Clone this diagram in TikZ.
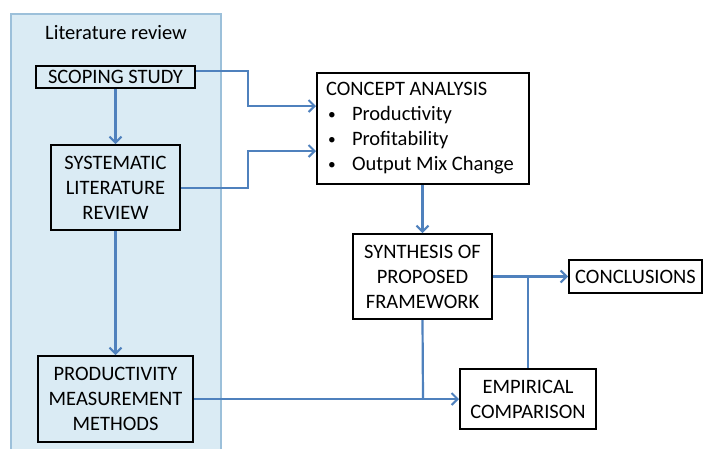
\documentclass[tikz,border=0pt]{standalone}
\usepackage{fontspec}
\setmainfont{Carlito}
\usetikzlibrary{arrows.meta}
\definecolor{panelfill}{HTML}{DAEBF4}
\definecolor{paneledge}{HTML}{9CC0DA}
\definecolor{flow}{HTML}{4F81BD}
\newcommand{\smbullet}{\raisebox{0.15ex}{\scalebox{0.75}{\textbullet}}}
\begin{document}
\begin{tikzpicture}[x=1pt,y=-1pt,
  box/.style={draw=black,line width=2pt,inner sep=0pt,align=center,
    font=\fontsize{20.5}{25}\selectfont},
  flowline/.style={draw=flow,line width=2.2pt},
  flowarrow/.style={flowline,-{Straight Barb[length=6pt,width=12pt,line width=2pt]}}]
\useasboundingbox (0,0) rectangle (703,448);
\fill[white] (0,0) rectangle (703,448);
% panel
\fill[panelfill] (11,14) rectangle (221,452);
\draw[paneledge,line width=1.2pt] (11,452) -- (11,14) -- (221,14) -- (221,452);
\node[font=\fontsize{20.5}{25}\selectfont] (littitle) at (116,33) {Literature review};
% boxes
\node[box,minimum width=159pt,minimum height=22pt] (scoping) at (115.5,77) {SCOPING STUDY};
\node[box,minimum width=129pt,minimum height=85pt] (systematic) at (115.5,187.5) {SYSTEMATIC\\LITERATURE\\REVIEW};
\node[box,minimum width=155pt,minimum height=86pt] (prodmeas) at (115.5,399) {PRODUCTIVITY\\MEASUREMENT\\METHODS};
\node[box,text width=194pt,inner xsep=9pt,minimum height=111pt,align=flush left] (concept) at (423,128.5)
  {CONCEPT ANALYSIS\\
   \makebox[26pt][l]{\hspace{2pt}\smbullet}Productivity\\
   \makebox[26pt][l]{\hspace{2pt}\smbullet}Profitability\\
   \makebox[26pt][l]{\hspace{2pt}\smbullet}Output Mix Change};
\node[box,minimum width=139pt,minimum height=85pt] (synth) at (422.5,276.5) {SYNTHESIS OF\\PROPOSED\\FRAMEWORK};
\node[box,minimum width=133pt,minimum height=33pt] (concl) at (635.5,276.5) {CONCLUSIONS};
\node[box,minimum width=136pt,minimum height=60pt] (empir) at (528,399) {EMPIRICAL\\COMPARISON};
% connectors
\coordinate (j1) at (248,71);
\coordinate (j2) at (248,106);
\coordinate (j3) at (248,188);
\coordinate (j4) at (248,151);
\coordinate (jsyn) at (528,277);
\coordinate (jemp) at (423,399);
\draw[flowarrow] (scoping.east |- j1) -- (j1) -- (j2) -- (concept.west |- j2);
\draw[flowarrow] (systematic.east |- j3) -- (j3) -- (j4) -- (concept.west |- j4);
\draw[flowarrow] (scoping) -- (systematic);
\draw[flowarrow] (systematic) -- (prodmeas);
\draw[flowarrow] (concept.south -| synth) -- (synth);
\draw[flowarrow] (synth) -- (concl);
\draw[flowline] (empir.north) -- (jsyn);
\draw[flowarrow] (prodmeas) -- (empir);
\draw[flowline] (synth.south) -- (jemp);
\end{tikzpicture}
\end{document}
